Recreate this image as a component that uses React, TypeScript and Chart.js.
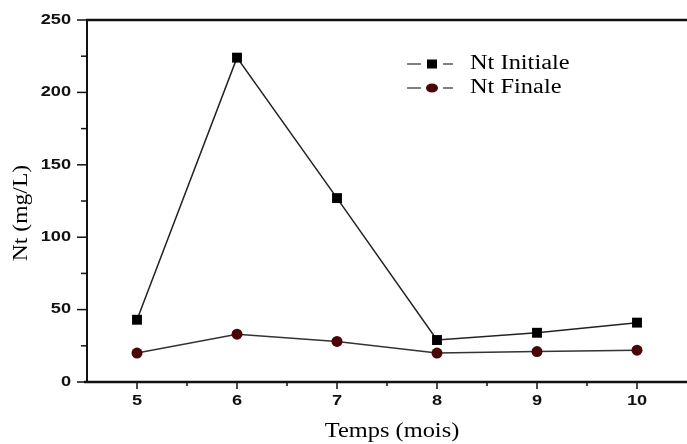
import React, { useEffect, useRef } from "react";
import { Chart, registerables } from "chart.js";

Chart.register(...registerables);

const months = [5, 6, 7, 8, 9, 10];
const ntInitiale = [43, 224, 127, 29, 34, 41];
const ntFinale = [20, 33, 28, 20, 21, 22];
const yTicks = [0, 50, 100, 150, 200, 250];
const seriesLabels = ["Nt Initiale", "Nt Finale"];
const xTitle = "Temps (mois)";
const yTitle = "Nt (mg/L)";

const W = 687;
const H = 444;

function stretchedText(ctx: CanvasRenderingContext2D, text: string, x: number, y: number, sx: number, align: CanvasTextAlign, rotate = 0) {
  ctx.save();
  ctx.translate(x, y);
  if (rotate) ctx.rotate(rotate);
  ctx.scale(sx, 1);
  ctx.textAlign = align;
  ctx.textBaseline = "middle";
  ctx.fillText(text, 0, 0);
  ctx.restore();
}

const framePlugin = {
  id: "frame",
  afterDraw(chart: any) {
    const ctx: CanvasRenderingContext2D = chart.ctx;
    const { left, right, top, bottom } = chart.chartArea;
    const xs = chart.scales.x;
    const ys = chart.scales.y;
    ctx.save();
    ctx.strokeStyle = "#111";
    ctx.lineCap = "butt";
    // top line
    ctx.lineWidth = 2.5;
    ctx.beginPath();
    ctx.moveTo(left - 1, top);
    ctx.lineTo(W, top);
    ctx.stroke();
    // bottom axis
    ctx.beginPath();
    ctx.moveTo(left - 3, bottom);
    ctx.lineTo(W, bottom);
    ctx.stroke();
    // left axis
    ctx.lineWidth = 2;
    ctx.beginPath();
    ctx.moveTo(left, top - 1);
    ctx.lineTo(left, bottom + 1);
    ctx.stroke();
    // y ticks
    ctx.lineWidth = 1.5;
    yTicks.forEach((v, i) => {
      const py = ys.getPixelForValue(v);
      ctx.beginPath();
      ctx.moveTo(left - 10, py);
      ctx.lineTo(left, py);
      ctx.stroke();
      if (i < yTicks.length - 1) {
        const pm = ys.getPixelForValue(v + 25);
        ctx.beginPath();
        ctx.moveTo(left - 6, pm);
        ctx.lineTo(left, pm);
        ctx.stroke();
      }
    });
    // x ticks
    months.forEach((m, i) => {
      const px = xs.getPixelForValue(m);
      ctx.beginPath();
      ctx.moveTo(px, bottom);
      ctx.lineTo(px, bottom + 7);
      ctx.stroke();
      if (i < months.length - 1) {
        const pm = xs.getPixelForValue(m + 0.5);
        ctx.beginPath();
        ctx.moveTo(pm, bottom);
        ctx.lineTo(pm, bottom + 4);
        ctx.stroke();
      }
    });
    // tick labels
    ctx.fillStyle = "#111";
    ctx.font = "bold 14px 'Liberation Sans', Arial, sans-serif";
    yTicks.forEach((v) => {
      stretchedText(ctx, String(v), left - 16, ys.getPixelForValue(v), 1.3, "right");
    });
    months.forEach((m) => {
      stretchedText(ctx, String(m), xs.getPixelForValue(m), bottom + 19, 1.3, "center");
    });
    // axis titles
    ctx.fillStyle = "#000";
    ctx.font = "20px 'Liberation Serif', 'Times New Roman', serif";
    stretchedText(ctx, xTitle, 392, 432, 1.22, "center");
    stretchedText(ctx, yTitle, 22, 213, 1.18, "center", -Math.PI / 2);
    // legend
    const legY = [64, 88];
    legY.forEach((ly, i) => {
      ctx.strokeStyle = "#555";
      ctx.lineWidth = 1.5;
      ctx.beginPath();
      ctx.moveTo(407, ly);
      ctx.lineTo(421, ly);
      ctx.moveTo(443, ly);
      ctx.lineTo(453, ly);
      ctx.stroke();
      if (i === 0) {
        ctx.fillStyle = "#000";
        ctx.fillRect(427, ly - 4.5, 10, 9);
      } else {
        ctx.fillStyle = "#4a0606";
        ctx.beginPath();
        ctx.ellipse(432, ly, 6, 4.5, 0, 0, Math.PI * 2);
        ctx.fill();
      }
      ctx.fillStyle = "#000";
      ctx.font = "20px 'Liberation Serif', 'Times New Roman', serif";
      stretchedText(ctx, seriesLabels[i], 470, ly, 1.22, "left");
    });
    ctx.restore();
  },
};

export default function App() {
  const ref = useRef<HTMLCanvasElement | null>(null);
  useEffect(() => {
    document.body.style.margin = "0";
    const canvas = ref.current;
    if (!canvas) return;
    const chart = new Chart(canvas, {
      type: "line",
      data: {
        datasets: [
          {
            label: seriesLabels[0],
            data: months.map((m, i) => ({ x: m, y: ntInitiale[i] })),
            borderColor: "#222",
            borderWidth: 1.5,
            pointStyle: "rect",
            pointRadius: 7,
            pointBorderWidth: 0,
            pointBackgroundColor: "#000",
            tension: 0,
          },
          {
            label: seriesLabels[1],
            data: months.map((m, i) => ({ x: m, y: ntFinale[i] })),
            borderColor: "#333",
            borderWidth: 1.5,
            pointStyle: "circle",
            pointRadius: 5.5,
            pointBorderWidth: 0,
            pointBackgroundColor: "#4a0606",
            tension: 0,
          },
        ],
      },
      options: {
        responsive: false,
        animation: false,
        layout: { padding: { top: 20, right: 0, left: 0, bottom: 0 } },
        plugins: { legend: { display: false }, tooltip: { enabled: false } },
        scales: {
          x: {
            type: "linear",
            min: 4.5,
            max: 10.43,
            grid: { display: false },
            border: { display: false },
            ticks: { display: false },
            afterFit: (s: any) => {
              s.height = 62;
            },
          },
          y: {
            type: "linear",
            min: 0,
            max: 250,
            grid: { display: false },
            border: { display: false },
            ticks: { display: false },
            afterFit: (s: any) => {
              s.width = 87;
            },
          },
        },
      },
      plugins: [framePlugin],
    } as any);
    return () => chart.destroy();
  }, []);
  return (
    <div style={{ position: "fixed", left: 0, top: 0, width: W, height: H, background: "#fff" }}>
      <canvas ref={ref} width={W} height={H} />
    </div>
  );
}
